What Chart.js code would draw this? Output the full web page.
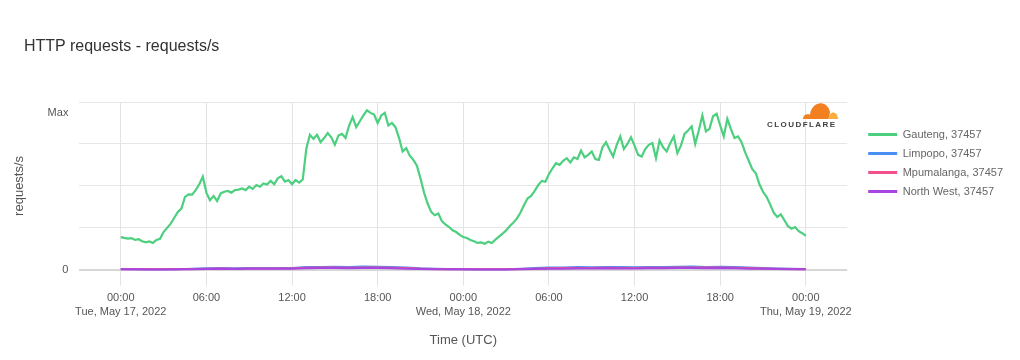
<!DOCTYPE html>
<html lang="en">
<head>
  <meta charset="UTF-8">
  <title>HTTP requests - requests/s</title>
  <script src="https://cdn.jsdelivr.net/npm/chart.js"></script>
  <style>
    body {
      margin: 0;
      background: #fff;
      font-family: "Liberation Sans", Arial, sans-serif;
    }
    .wrap {
      position: relative;
      width: 1020px;
      height: 360px;
    }
    .title {
      position: absolute;
      left: 24px;
      top: 37px;
      font-size: 16px;
      color: #333;
    }
    .logo {
      position: absolute;
      left: 765px;
      top: 102px;
      width: 74px;
      height: 28px;
    }
    .logo svg {
      position: absolute;
      left: 36px;
      top: 0px;
    }
    .logo span {
      position: absolute;
      left: 2px;
      top: 18px;
      font-size: 8px;
      font-weight: bold;
      letter-spacing: 1.45px;
      color: #404041;
    }
  </style>
</head>
<body>
  <div class="wrap">
    <canvas id="chart" width="1020" height="360"></canvas>
    <div class="title">HTTP requests - requests/s</div>
    <div class="logo">
      <svg width="38" height="18" viewBox="0 0 38 18">
        <path d="M2,17 C2,13 5,11.5 9,12.5 C10,5 15.5,0.5 21.5,1.5 C26,2.5 28.5,6.5 29,10.5 L27.5,17 Z" fill="#f38020"/>
        <path d="M27.5,17 C28,11.5 31,9.5 34,11 C36,12 37,14.5 37,17 Z" fill="#faae40"/>
      </svg>
      <span>CLOUDFLARE</span>
    </div>
  </div>

  <script>
    // series names shown in the legend
    const seriesNames = ['Gauteng, 37457', 'Limpopo, 37457', 'Mpumalanga, 37457', 'North West, 37457'];
    const seriesColors = ['#4ccf7e', '#4a8ff5', '#f2508a', '#a744e2'];

    // Gauteng, one value every 15 minutes, hours 0..48 (from 00:00 Tue, May 17)
    const gautengStep = 0.25;
    const gauteng = [
      19.5, 19.0, 18.6, 18.9, 17.8, 18.2, 17.0, 16.4,
      16.9, 16.0, 17.8, 18.5, 22.5, 25.0, 27.5, 31.0,
      34.5, 36.5, 43.5, 45.0, 44.8, 47.5, 51.0, 55.5,
      46.0, 41.5, 44.0, 41.0, 45.5, 46.5, 47.0, 46.0,
      47.5, 47.8, 48.5, 47.5, 49.5, 48.2, 50.5, 49.5,
      51.5, 50.8, 53.0, 51.0, 54.5, 55.8, 52.5, 53.5,
      51.0, 53.5, 52.0, 53.8, 72.0, 80.5, 78.0, 80.5,
      76.0, 78.5, 81.5, 79.0, 74.5, 80.0, 81.0, 78.5,
      86.0, 91.0, 85.0, 88.5, 92.0, 95.0, 93.5, 92.5,
      87.5, 92.0, 93.5, 86.0, 87.5, 85.0, 78.5, 70.5,
      72.5, 68.0, 65.5, 62.0, 54.5, 46.0, 39.5, 34.5,
      32.5, 33.5, 29.0, 27.0, 25.5, 23.5, 22.5, 20.8,
      19.5, 19.0, 17.8, 17.0, 16.0, 16.3, 15.5, 16.8,
      16.0, 18.0, 19.8, 21.5, 23.5, 26.0, 28.0, 30.5,
      34.0, 38.5, 42.5, 44.0, 47.0, 50.5, 53.0, 52.5,
      57.0, 60.5, 63.5, 62.5, 65.0, 66.5, 64.0, 67.0,
      66.0, 71.0, 67.0, 68.5, 70.5, 66.0, 65.5, 73.0,
      76.0, 71.5, 67.5, 74.5, 79.5, 72.0, 75.0, 79.0,
      74.0, 68.5, 67.5, 72.0, 74.5, 75.5, 66.5, 77.0,
      73.0, 70.5, 75.5, 79.5, 69.5, 74.0, 81.0, 83.0,
      85.5, 75.0, 83.0, 92.0, 82.5, 84.0, 91.5, 93.0,
      86.0, 79.5, 90.0, 84.0, 78.5, 79.5, 76.0, 70.0,
      65.0, 60.0, 57.5, 51.0, 46.5, 43.5, 39.0, 34.0,
      31.5, 33.0, 29.5, 26.0, 24.5, 25.5, 23.0, 21.8,
      20.2
    ];

    // the small provinces, one value per hour
    const smallStep = 1;
    const limpopo = [
      0.5, 0.4, 0.4, 0.3, 0.4, 0.6, 0.9, 1.0, 0.9, 1.0, 1.1, 1.0,
      1.1, 1.6, 1.7, 1.8, 1.6, 1.9, 1.8, 1.7, 1.3, 0.9, 0.7, 0.5,
      0.4, 0.4, 0.3, 0.4, 0.7, 1.0, 1.3, 1.4, 1.6, 1.5, 1.7, 1.6,
      1.5, 1.6, 1.7, 1.8, 1.9, 1.7, 1.8, 1.6, 1.3, 1.0, 0.8, 0.6,
      0.5
    ];
    const mpumalanga = [
      0.4, 0.3, 0.3, 0.3, 0.3, 0.5, 0.7, 0.8, 0.7, 0.8, 0.8, 0.8,
      0.9, 1.2, 1.3, 1.3, 1.2, 1.4, 1.4, 1.2, 1.0, 0.7, 0.5, 0.4,
      0.3, 0.3, 0.3, 0.3, 0.5, 0.7, 0.9, 1.0, 1.1, 1.1, 1.2, 1.1,
      1.1, 1.2, 1.2, 1.3, 1.4, 1.3, 1.3, 1.2, 1.0, 0.8, 0.6, 0.5,
      0.4
    ];
    const northWest = [
      0.3, 0.3, 0.2, 0.2, 0.3, 0.4, 0.5, 0.6, 0.5, 0.6, 0.6, 0.6,
      0.7, 0.9, 1.0, 1.0, 0.9, 1.0, 1.0, 0.9, 0.7, 0.5, 0.4, 0.3,
      0.3, 0.2, 0.2, 0.2, 0.4, 0.5, 0.7, 0.7, 0.8, 0.8, 0.9, 0.8,
      0.8, 0.9, 0.9, 1.0, 1.0, 0.9, 1.0, 0.9, 0.7, 0.6, 0.5, 0.4,
      0.3
    ];

    // x axis ticks (hours from start)
    const xTickHours = [0, 6, 12, 18, 24, 30, 36, 42, 48];
    const xTickTimes = ['00:00', '06:00', '12:00', '18:00', '00:00', '06:00', '12:00', '18:00', '00:00'];
    const xTickDates = ['Tue, May 17, 2022', '', '', '', 'Wed, May 18, 2022', '', '', '', 'Thu, May 19, 2022'];

    // y axis: gridlines plus the "Max" marker
    const yGridValues = [0, 25, 50, 75, 100];
    const yMaxValue = 93.5;

    function toPoints(values, step) {
      return values.map((v, i) => ({ x: i * step, y: v }));
    }

    const seriesData = [
      toPoints(gauteng, gautengStep),
      toPoints(limpopo, smallStep),
      toPoints(mpumalanga, smallStep),
      toPoints(northWest, smallStep)
    ];
    const drawOrder = [0, 3, 2, 1];

    const datasets = seriesData.map((data, i) => ({
      label: seriesNames[i],
      data: data,
      borderColor: seriesColors[i],
      backgroundColor: seriesColors[i],
      borderWidth: i === 0 ? 2.2 : 2,
      pointRadius: 0,
      tension: 0,
      clip: 4,
      order: drawOrder[i]
    }));

    Chart.defaults.font.family = '"Liberation Sans", Arial, sans-serif';

    new Chart(document.getElementById('chart'), {
      type: 'line',
      data: { datasets: datasets },
      options: {
        responsive: false,
        animation: false,
        layout: { padding: { top: 102, left: 8, right: 7, bottom: 8 } },
        plugins: {
          tooltip: { enabled: false },
          legend: {
            position: 'right',
            align: 'start',
            title: { display: true, text: '', font: { size: 10 }, padding: { top: 0, bottom: 7 } },
            labels: {
              boxWidth: 29,
              boxHeight: 3,
              padding: 8,
              color: '#444',
              font: { size: 11 },
              generateLabels(chart) {
                return chart.data.datasets.map((ds, i) => ({
                  text: ds.label,
                  fillStyle: ds.borderColor,
                  strokeStyle: ds.borderColor,
                  lineWidth: 0,
                  hidden: false,
                  datasetIndex: i
                }));
              }
            }
          }
        },
        scales: {
          x: {
            type: 'linear',
            min: -2.9,
            max: 50.9,
            afterBuildTicks(scale) {
              scale.ticks = xTickHours.map(h => ({ value: h }));
            },
            ticks: {
              autoSkip: false,
              maxRotation: 0,
              padding: 5,
              color: '#555',
              font: { size: 11, lineHeight: 1.3 },
              callback(value) {
                const i = xTickHours.indexOf(value);
                return xTickDates[i] ? [xTickTimes[i], xTickDates[i]] : xTickTimes[i];
              }
            },
            grid: { color: '#e3e3e3', tickLength: 16 },
            border: { display: false },
            title: {
              display: true,
              text: 'Time (UTC)',
              color: '#555',
              font: { size: 13 },
              padding: { top: 8, bottom: 4 }
            }
          },
          y: {
            min: 0,
            max: 100,
            afterBuildTicks(scale) {
              scale.ticks = yGridValues.concat([yMaxValue]).sort((a, b) => a - b).map(v => ({ value: v }));
            },
            ticks: {
              autoSkip: false,
              padding: 11,
              color: '#555',
              font: { size: 11 },
              callback(value) {
                if (value === 0) return '0';
                if (value === yMaxValue) return 'Max';
                return '';
              }
            },
            grid: {
              drawTicks: false,
              color: ctx => ctx.tick && ctx.tick.value === yMaxValue ? 'rgba(0,0,0,0)' :
                (ctx.tick && ctx.tick.value === 0 ? '#d6d6d6' : '#e6e6e6'),
              lineWidth: ctx => ctx.tick && ctx.tick.value === 0 ? 2 : 1
            },
            border: { display: false },
            title: {
              display: true,
              text: 'requests/s',
              color: '#555',
              font: { size: 13 },
              padding: { top: 4, bottom: 9 }
            }
          },
          gap: {
            type: 'linear',
            position: 'right',
            display: true,
            grid: { display: false },
            ticks: { display: false },
            border: { display: false },
            afterFit(scale) { scale.width = 13; }
          }
        }
      }
    });
  </script>
</body>
</html>
